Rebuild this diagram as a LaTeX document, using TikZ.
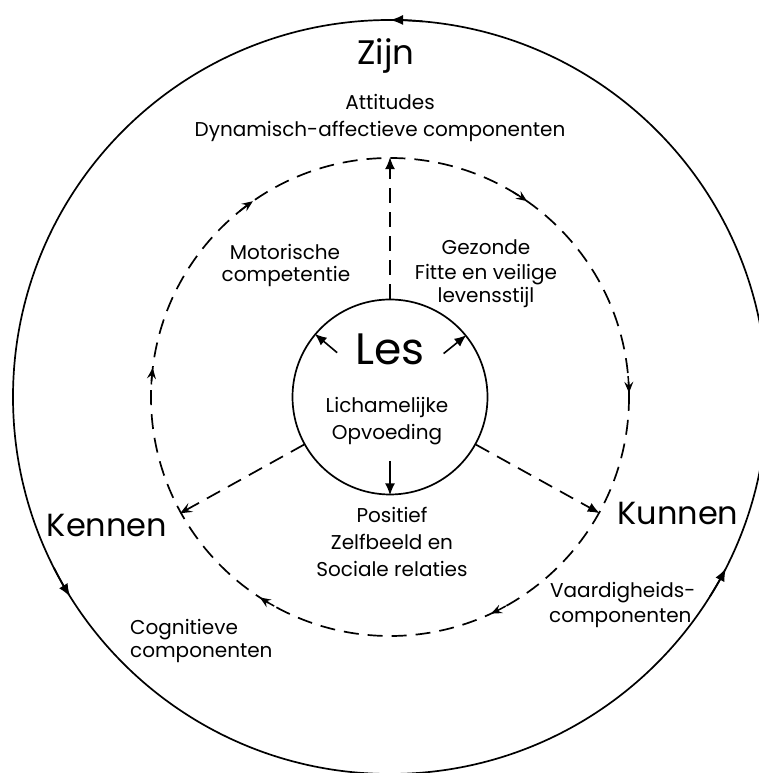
\documentclass[tikz,border=0pt]{standalone}
\usepackage{fontspec}
\setmainfont{Poppins}
\usetikzlibrary{arrows.meta,calc}
\begin{document}
\begin{tikzpicture}[x=1pt,y=1pt,
  ring/.style={circle, draw, line width=1.7pt, inner sep=0pt},
  dashring/.style={circle, draw, line width=1.7pt, inner sep=0pt, dash pattern=on 15pt off 9pt},
  spoke/.style={line width=1.7pt, dash pattern=on 15pt off 9pt},
  bigtip/.style={-{Latex[length=12pt,width=10pt]}},
  thintip/.style={-{Stealth[length=12pt,width=10pt,inset=5pt]}},
  ringtip/.style={solid, line width=1.5pt, -{Stealth[length=11pt,width=9pt,inset=4pt]}},
  outertip/.style={line width=1.7pt, -{Latex[length=13pt,width=10pt]}},
  small/.style={font=\fontsize{20}{24}\selectfont, inner sep=0pt, anchor=base},
  smallw/.style={font=\fontsize{20}{24}\selectfont, inner sep=0pt, anchor=base west},
  large/.style={font=\fontsize{32}{36}\selectfont, inner sep=0pt, anchor=base},
]
\useasboundingbox (0,0) rectangle (759,773);
\coordinate (C) at (390,376);
% circles
\node[ring, minimum size=754pt] (outer) at (C) {};
\node[dashring, minimum size=478pt] (mid) at (C) {};
\node[ring, minimum size=195pt] (les) at (C) {};

% outer arrows (counterclockwise)
\foreach \a/\n in {90/oa, 212/ob, 333/oc}{
  \coordinate (\n) at ($(C)+(\a-5:377)$);
  \draw[outertip] (\n) arc[start angle=\a-5, end angle=\a, radius=377];
}
% dashed ring arrows (clockwise)
\foreach \a/\n in {125/ma, 55/mb, 1/mc, -65/md, 237/me, 173/mf}{
  \coordinate (\n) at ($(C)+(\a+4:239)$);
  \draw[ringtip] (\n) arc[start angle=\a+4, end angle=\a, radius=239];
}

% spokes
\draw[spoke, bigtip] (les.90) -- (mid.90);
\draw[spoke, thintip] (les.209) -- (mid.209);
\draw[spoke, bigtip] (les.331) -- (mid.331);

% inner short arrows
\coordinate (s1) at ($(C)+(140:69)$);
\coordinate (s2) at ($(C)+(39:69)$);
\coordinate (s3) at ($(C)+(270:64)$);
\draw[line width=1.6pt, bigtip] (s1) -- (les.140);
\draw[line width=1.6pt, bigtip] (s2) -- (les.39);
\draw[line width=1.6pt, bigtip] (s3) -- (les.270);

% texts
\node[large, font=\fontsize{34}{38}\selectfont] (zijn) at (386,708) {Zijn};
\node[small] (att1) at (390,663) {Attitudes};
\node[small] (att2) at (380,636) {Dynamisch-affectieve componenten};

\node[small] (mot1) at (285,513) {Motorische};
\node[small] (mot2) at (286,491) {competentie};

\node[small] (gez1) at (486,518) {Gezonde};
\node[small] (gez2) at (486,493) {Fitte en veilige};
\node[small] (gez3) at (486,470) {levensstijl};

\node[large, font=\fontsize{44}{48}\selectfont] (lestxt) at (390,408) {Les};
\node[small] (lo1) at (387,360) {Lichamelijke};
\node[small] (lo2) at (387,333) {Opvoeding};

\node[small] (pos1) at (392,250) {Positief};
\node[small] (pos2) at (392,223) {Zelfbeeld en};
\node[small] (pos3) at (392,196) {Sociale relaties};

\node[large] (kennen) at (107,236) {Kennen};
\node[large] (kunnen) at (678,248) {Kunnen};

\node[smallw] (vaa1) at (550,175) {Vaardigheids-};
\node[smallw] (vaa2) at (549,150) {componenten};

\node[smallw] (cog1) at (130,138) {Cognitieve};
\node[smallw] (cog2) at (130,115) {componenten};
\end{tikzpicture}
\end{document}
